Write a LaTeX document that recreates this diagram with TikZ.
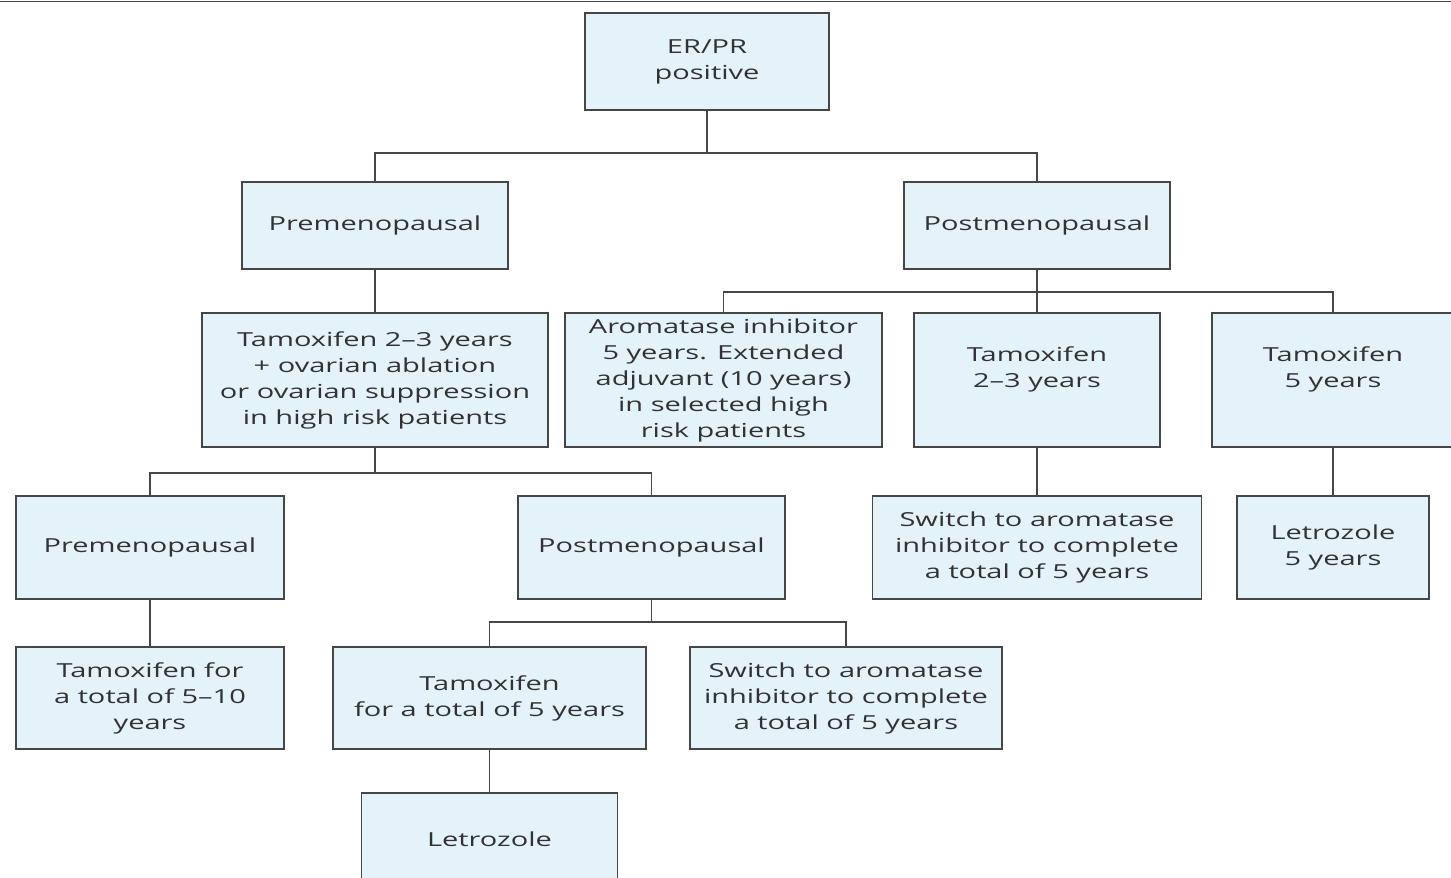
\documentclass[tikz,border=0pt]{standalone}
\usepackage{fontspec}
\setmainfont{Open Sans}[FakeStretch=1.5]
\definecolor{boxfill}{RGB}{228,242,250}
\definecolor{boxline}{RGB}{70,70,70}
\definecolor{boxtext}{RGB}{50,50,50}
\begin{document}
\begin{tikzpicture}[box/.style={draw=boxline,fill=boxfill,line width=1.1pt,align=center,
            text=boxtext,inner sep=0pt,font=\fontsize{11}{14.8}\selectfont},
            link/.style={draw=boxline,line width=1.1pt}]
             \useasboundingbox (0,0) rectangle (29.02,-17.56);
             \draw[boxline,line width=1pt] (0,-0.03) -- (29.02,-0.03);
             % first level
             \node[box,minimum width=4.88cm,minimum height=1.94cm] (root) at (14.14,-1.23) {ER/PR\\positive};
             \node[box,minimum width=5.32cm,minimum height=1.74cm] (pre) at (7.5,-4.51) {Premenopausal};
             \node[box,minimum width=5.32cm,minimum height=1.74cm] (post) at (20.74,-4.51) {Postmenopausal};
             % second level
             \node[box,minimum width=6.92cm,minimum height=2.68cm] (tamA) at (7.5,-7.6) {Tamoxifen 2--3 years\\+ ovarian ablation\\or ovarian suppression\\in high risk patients};
             \node[box,minimum width=6.34cm,minimum height=2.68cm] (ai) at (14.47,-7.6) {Aromatase inhibitor\\5 years. Extended\\adjuvant (10 years)\\in selected high\\risk patients};
             \node[box,minimum width=4.92cm,minimum height=2.68cm] (tamB) at (20.74,-7.6) {Tamoxifen\\2--3 years\\\mbox{}};
             \node[box,minimum width=4.84cm,minimum height=2.68cm] (tamC) at (26.66,-7.6) {Tamoxifen\\5 years\\\mbox{}};
             % third level
             \node[box,minimum width=5.36cm,minimum height=2.06cm] (preB) at (3.0,-10.95) {Premenopausal};
             \node[box,minimum width=5.34cm,minimum height=2.06cm] (postB) at (13.03,-10.95) {Postmenopausal};
             \node[box,minimum width=6.58cm,minimum height=2.06cm] (swA) at (20.74,-10.95) {Switch to aromatase\\inhibitor to complete\\a total of 5 years};
             \node[box,minimum width=3.84cm,minimum height=2.06cm] (letA) at (26.66,-10.95) {Letrozole\\5 years};
             % fourth level
             \node[box,minimum width=5.36cm,minimum height=2.04cm] (tamD) at (3.0,-13.96) {Tamoxifen for\\a total of 5--10\\years};
             \node[box,minimum width=6.26cm,minimum height=2.04cm] (tamE) at (9.79,-13.96) {Tamoxifen\\for a total of 5 years};
             \node[box,minimum width=6.24cm,minimum height=2.04cm] (swB) at (16.92,-13.96) {Switch to aromatase\\inhibitor to complete\\a total of 5 years};
             \node[box,minimum width=5.12cm,minimum height=1.84cm] (letB) at (9.79,-16.78) {Letrozole};
             % junctions
             \coordinate (j1) at (14.14,-3.06);
             \coordinate (j2) at (20.74,-5.84);
             \coordinate (j3) at (7.5,-9.46);
             \coordinate (j4) at (13.03,-12.44);
             \draw[link] (root) -- (j1);
             \draw[link] (pre.north) |- (j1) -| (post.north);
             \draw[link] (pre) -- (tamA);
             \draw[link] (post) -- (j2);
             \draw[link] (ai.north) |- (j2) -| (tamC.north);
             \draw[link] (j2) -- (tamB.north);
             \draw[link] (tamA) -- (j3);
             \draw[link] (preB.north) |- (j3) -| (postB.north);
             \draw[link] (tamB) -- (swA);
             \draw[link] (tamC) -- (letA);
             \draw[link] (preB) -- (tamD);
             \draw[link] (postB) -- (j4);
             \draw[link] (tamE.north) |- (j4) -| (swB.north);
             \draw[link] (tamE) -- (letB);
        \end{tikzpicture}
\end{document}
